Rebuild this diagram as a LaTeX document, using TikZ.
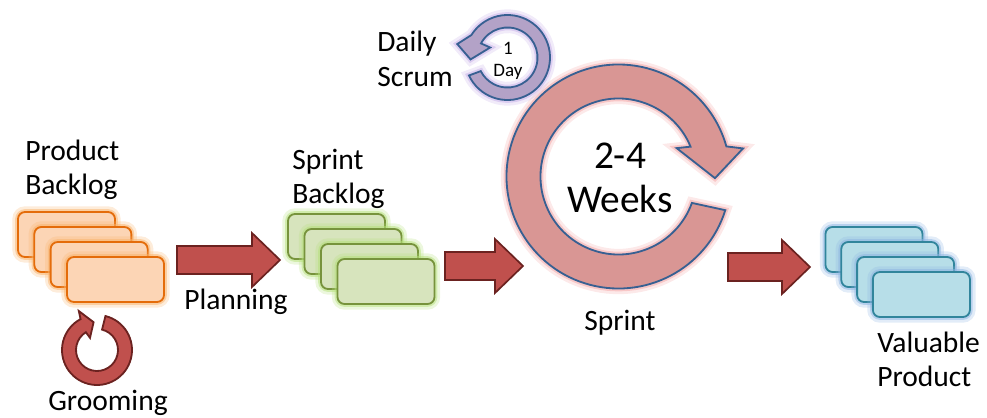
\documentclass[tikz,border=0pt]{standalone}
\usepackage{fontspec}
\setmainfont{Carlito}
\usetikzlibrary{calc}

\definecolor{pbfill}{HTML}{FCD5B5}
\definecolor{pbline}{HTML}{E46C0A}
\definecolor{pbglow}{HTML}{F9B36B}
\definecolor{sbfill}{HTML}{D7E4BD}
\definecolor{sbline}{HTML}{77933C}
\definecolor{sbglow}{HTML}{B5E07A}
\definecolor{vpfill}{HTML}{B7DEE8}
\definecolor{vpline}{HTML}{31859C}
\definecolor{vpglow}{HTML}{8DB4E2}
\definecolor{ringfill}{HTML}{D99694}
\definecolor{ringline}{HTML}{376092}
\definecolor{ringglow}{HTML}{F4A6A6}
\definecolor{dayfill}{HTML}{B3A2C7}
\definecolor{dayglow}{HTML}{C8B0E8}
\definecolor{arrfill}{HTML}{C0504D}
\definecolor{arrline}{HTML}{6B2220}

\tikzset{
  glow/.style={preaction={draw=#1, line width=8pt, opacity=.25},
               preaction={draw=#1, line width=4pt, opacity=.5}},
  card/.style n args={3}{draw=#2, fill=#1, line width=1.3pt, rounded corners=5pt,
               minimum width=2.425cm, minimum height=1.125cm, glow=#3},
  txt/.style={font=\fontsize{21}{24.5}\selectfont, align=left, inner sep=0pt},
  blockarrow/.style={fill=arrfill, draw=arrline, line width=1.2pt},
}

\begin{document}
\begin{tikzpicture}[x=0.025cm, y=0.025cm]
    \useasboundingbox (0,0) rectangle (987,417);

    % Sprint
    \begin{scope}[shift={(618.5,240.5)}]
        \draw[fill=ringfill, draw=ringline, line width=1.3pt, glow=ringglow]
            (-17.5:112) arc[start angle=-17.5, end angle=-344.4, radius=112]
            -- (-347.3:127.7) -- (-1:96.5) -- (26:64.7) -- (22.5:78)
            arc[start angle=-337.5, end angle=-19.8, radius=78] -- cycle;
        \node[txt, font=\fontsize{28}{31}\selectfont, align=center] (weeks) at (1.5,-1.5) {2-4\\Weeks};
    \end{scope}
    \node[txt] (sprint) at (620,94) {Sprint};

    % Daily Scrum
    \begin{scope}[shift={(507.5,359.5)}]
        \draw[fill=dayfill, draw=ringline, line width=1.3pt, glow=dayglow]
            (-155:42.5) arc[start angle=-155, end angle=148, radius=42.5]
            -- (165:52) -- (183:37) -- (150:20) -- (152:30)
            arc[start angle=152, end angle=-153, radius=30] -- cycle;
        \node[txt, font=\fontsize{13.5}{15.5}\selectfont, align=center] (day) at (0.5,-3.5) {1\\Day};
    \end{scope}
    \node[txt, anchor=west] (daily) at (377,358) {Daily\\Scrum};

    % Backlogs
    \foreach \i in {1,...,4} {
        \node[card={pbfill}{pbline}{pbglow}] (pb\i) at ({66.5+16.33*(\i-1)}, {182.5-15*(\i-1)}) {};
        \node[card={sbfill}{sbline}{sbglow}] (sb\i) at ({336.5+16.5*(\i-1)}, {180.5-15*(\i-1)}) {};
        \node[card={vpfill}{vpline}{vpglow}] (vp\i) at ({874+15.8*(\i-1)}, {167.5-15*(\i-1)}) {};
    }
    \node[txt, anchor=west] (pbtxt) at (25,247) {Product\\Backlog};
    \node[txt, anchor=west] (sbtxt) at (292,238) {Sprint\\Backlog};
    \node[txt, anchor=west] (vptxt) at (877,57.5) {Valuable\\Product};

    % Grooming
    \begin{scope}[shift={(97,67)}]
        \draw[fill=arrfill, draw=arrline, line width=1.3pt]
            (76:35) arc[start angle=76, end angle=-242, radius=35]
            -- (-245:43) -- (-263:28) -- (-240:14) -- (-238:21)
            arc[start angle=-238, end angle=76, radius=21] -- cycle;
    \end{scope}
    \node[txt] (groom) at (108,14) {Grooming};

    % Pfeile
    \foreach \x/\y/\l in {177/157/103, 445/151/78, 728/150/82} {
        \draw[blockarrow] ({\x},{\y+14}) -- ++({\l-28},0) -- ++(0,13) -- ({\x+\l},{\y})
            -- ({\x+\l-28},{\y-27}) -- ++(0,13) -- ({\x},{\y-14}) -- cycle;
    }
    \node[txt] (plan) at (236,115) {Planning};
\end{tikzpicture}
\end{document}
